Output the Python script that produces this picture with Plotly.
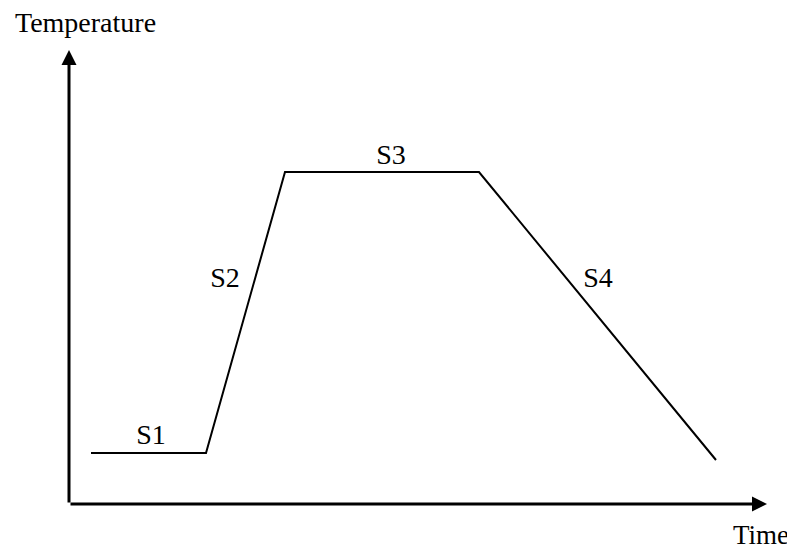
import plotly.graph_objects as go

# heat treatment profile, arbitrary units (origin at the axes corner)
time = [22, 137, 216, 410, 647]
temp = [51, 51, 332, 332, 44]

stage_names = ["S1", "S2", "S3", "S4"]
stage_x = [82, 156, 322, 529]
stage_y = [67, 224, 347, 224]

x_end = 698
y_end = 454

fig = go.Figure()

fig.add_trace(go.Scatter(x=time, y=temp, mode="lines",
                         line=dict(color="black", width=2),
                         hoverinfo="skip", showlegend=False))

fig.add_trace(go.Scatter(x=stage_x, y=stage_y, mode="text", text=stage_names,
                         textfont=dict(family="Liberation Serif", size=28, color="black"),
                         hoverinfo="skip", showlegend=False))

# axes drawn as arrows
for tip_x, tip_y in [(x_end, 0), (0, y_end)]:
    fig.add_annotation(x=tip_x, y=tip_y, ax=0, ay=0, xref="x", yref="y",
                       axref="x", ayref="y", showarrow=True, arrowhead=2,
                       arrowsize=1, arrowwidth=3, arrowcolor="black",
                       standoff=0, text="")

fig.add_annotation(x=16, y=482, xref="x", yref="y", text="Temperature",
                   showarrow=False,
                   font=dict(family="Liberation Serif", size=28, color="black"))
fig.add_annotation(x=722, y=-31, xref="x", yref="y", text="Time",
                   showarrow=False, xanchor="right", xshift=0,
                   font=dict(family="Liberation Serif", size=27, color="black"))

# page body has an 8px margin, so the figure is 8px smaller
fig.update_xaxes(range=[-61, 726], visible=False)
fig.update_yaxes(range=[-45, 496], visible=False)
fig.update_layout(width=787, height=541, margin=dict(l=0, r=0, t=0, b=0),
                  plot_bgcolor="white", paper_bgcolor="white")

fig.write_html("out.html")
